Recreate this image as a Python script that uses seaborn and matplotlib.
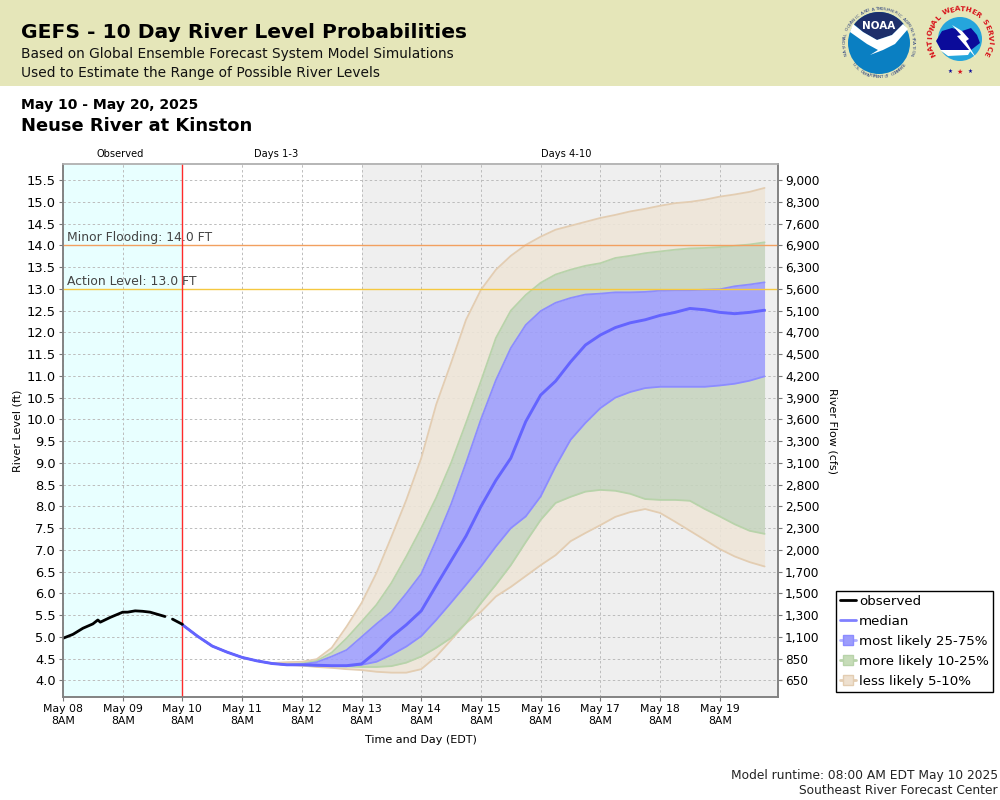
import numpy as np
import pandas as pd
import matplotlib
matplotlib.use("Agg")
import matplotlib.pyplot as plt
from matplotlib.lines import Line2D
from matplotlib.patches import Circle, Polygon, Rectangle
import seaborn as sns

sns.set_style("white")
plt.rcParams['font.family'] = ['DejaVu Sans']
plt.rcParams['text.color'] = 'black'
plt.rcParams['xtick.labelcolor'] = 'black'
plt.rcParams['ytick.labelcolor'] = 'black'

# observed stage, hours after May 08 8AM (there is a gap in the gauge record)
obs_hours_a = [0, 4, 8, 12, 14, 15, 19, 24, 26, 29, 32, 35, 38, 41]
obs_level_a = [4.97, 5.06, 5.20, 5.30, 5.39, 5.34, 5.45, 5.57, 5.57, 5.60, 5.59, 5.57, 5.52, 5.47]
obs_hours_b = [44, 46, 48]
obs_level_b = [5.41, 5.35, 5.29]

# forecast every 6 hours from May 10 8AM
fc_hours = list(range(48, 288, 6))
median = [5.28, 5.02, 4.79, 4.65, 4.53, 4.45, 4.39, 4.36, 4.36, 4.35, 4.34, 4.34, 4.38, 4.66, 5.00, 5.28, 5.60, 6.18, 6.75, 7.32,
          8.00, 8.60, 9.11, 9.95, 10.56, 10.88, 11.32, 11.71, 11.94, 12.11, 12.22, 12.29, 12.39, 12.46, 12.55, 12.52, 12.46, 12.43, 12.46, 12.51]
q05 = [5.28, 5.02, 4.79, 4.65, 4.53, 4.45, 4.39, 4.36, 4.34, 4.31, 4.29, 4.26, 4.24, 4.20, 4.18, 4.18, 4.26, 4.55, 4.93, 5.32,
       5.58, 5.93, 6.15, 6.40, 6.65, 6.88, 7.20, 7.39, 7.57, 7.76, 7.87, 7.94, 7.85, 7.65, 7.44, 7.23, 7.02, 6.85, 6.72, 6.62]
q10 = [5.28, 5.02, 4.79, 4.65, 4.53, 4.45, 4.39, 4.36, 4.35, 4.33, 4.33, 4.32, 4.31, 4.31, 4.33, 4.41, 4.55, 4.75, 4.98, 5.32,
       5.78, 6.20, 6.65, 7.18, 7.69, 8.08, 8.22, 8.34, 8.38, 8.36, 8.29, 8.17, 8.15, 8.15, 8.13, 7.94, 7.77, 7.59, 7.44, 7.37]
q25 = [5.28, 5.02, 4.79, 4.65, 4.53, 4.45, 4.39, 4.36, 4.36, 4.34, 4.33, 4.33, 4.36, 4.43, 4.59, 4.78, 5.02, 5.39, 5.79, 6.20,
       6.62, 7.08, 7.50, 7.77, 8.23, 8.92, 9.53, 9.92, 10.26, 10.50, 10.63, 10.72, 10.75, 10.75, 10.75, 10.75, 10.78, 10.82, 10.89, 10.99]
q75 = [5.28, 5.02, 4.79, 4.65, 4.53, 4.45, 4.39, 4.36, 4.37, 4.42, 4.55, 4.70, 5.00, 5.30, 5.58, 6.00, 6.45, 7.22, 8.05, 9.00,
       10.00, 10.90, 11.64, 12.17, 12.49, 12.68, 12.79, 12.87, 12.89, 12.92, 12.92, 12.93, 12.96, 12.97, 12.97, 12.98, 12.99, 13.06, 13.10, 13.15]
q90 = [5.28, 5.02, 4.79, 4.65, 4.53, 4.45, 4.39, 4.37, 4.39, 4.45, 4.64, 4.97, 5.35, 5.74, 6.24, 6.85, 7.50, 8.20, 9.00, 9.92,
       10.88, 11.87, 12.50, 12.86, 13.14, 13.33, 13.44, 13.53, 13.59, 13.71, 13.76, 13.82, 13.86, 13.90, 13.93, 13.94, 13.96, 13.99, 14.02, 14.07]
q95 = [5.28, 5.02, 4.79, 4.65, 4.53, 4.45, 4.40, 4.42, 4.43, 4.49, 4.75, 5.24, 5.78, 6.47, 7.30, 8.15, 9.11, 10.34, 11.30, 12.29,
       12.98, 13.44, 13.76, 14.01, 14.20, 14.36, 14.45, 14.54, 14.63, 14.70, 14.78, 14.84, 14.91, 14.97, 15.00, 15.05, 15.12, 15.17, 15.23, 15.32]

level_ticks = [4.0, 4.5, 5.0, 5.5, 6.0, 6.5, 7.0, 7.5, 8.0, 8.5, 9.0, 9.5, 10.0, 10.5, 11.0, 11.5, 12.0, 12.5, 13.0, 13.5, 14.0, 14.5, 15.0, 15.5]
flow_labels = ["650", "850", "1,100", "1,300", "1,500", "1,700", "2,000", "2,300", "2,500", "2,800", "3,100", "3,300",
               "3,600", "3,900", "4,200", "4,500", "4,700", "5,100", "5,600", "6,300", "6,900", "7,600", "8,300", "9,000"]
day_ticks = [0, 24, 48, 72, 96, 120, 144, 168, 192, 216, 240, 264]
day_labels = ["May 08\n8AM", "May 09\n8AM", "May 10\n8AM", "May 11\n8AM", "May 12\n8AM", "May 13\n8AM",
              "May 14\n8AM", "May 15\n8AM", "May 16\n8AM", "May 17\n8AM", "May 18\n8AM", "May 19\n8AM"]

forecast = pd.DataFrame({"hours": fc_hours, "median": median, "q05": q05, "q10": q10,
                         "q25": q25, "q75": q75, "q90": q90, "q95": q95})

TAN, TAN_EDGE = "#eee5d8", "#e3cdb2"
GREEN, GREEN_EDGE = "#c6d4be", "#b8d3aa"
BLUE, BLUE_EDGE = "#9c9cfc", "#8c8cff"
MEDIAN = "#6464ff"

fig = plt.figure(figsize=(10, 8), dpi=100)

# page furniture, drawn in pixel coordinates
page = fig.add_axes([0, 0, 1, 1], zorder=-1)
page.set_xlim(0, 1000)
page.set_ylim(800, 0)
page.axis("off")
page.add_patch(Rectangle((0, 0), 1000, 86, color="#e5e6b9", lw=0))
page.text(21, 33, "GEFS - 10 Day River Level Probabilities", fontsize=14.6, fontweight="bold", va="center")
page.text(21, 54, "Based on Global Ensemble Forecast System Model Simulations", fontsize=9.9, va="center", color="#111111")
page.text(21, 73, "Used to Estimate the Range of Possible River Levels", fontsize=9.9, va="center", color="#111111")
page.text(21, 105, "May 10 - May 20, 2025", fontsize=10.1, fontweight="bold", va="center")
page.text(21, 126, "Neuse River at Kinston", fontsize=12.9, fontweight="bold", va="center")
page.text(120, 154, "Observed", fontsize=7.1, ha="center", va="center")
page.text(276, 154, "Days 1-3", fontsize=7.1, ha="center", va="center")
page.text(566, 154, "Days 4-10", fontsize=7.1, ha="center", va="center")
page.text(18, 431, "River Level (ft)", fontsize=8, rotation=90, ha="center", va="center")
page.text(832, 431, "River Flow (cfs)", fontsize=8, rotation=270, ha="center", va="center")
page.text(421, 740, "Time and Day (EDT)", fontsize=8, ha="center", va="center")
page.text(998, 775, "Model runtime: 08:00 AM EDT May 10 2025", fontsize=8.8, ha="right", va="center", color="#222222")
page.text(998, 791, "Southeast River Forecast Center", fontsize=8.8, ha="right", va="center", color="#222222")


def arc_text(text, cx, cy, r, start, end, size, color, weight="normal", bottom=False):
    # one real text per letter, turned along the circle
    for ch, a in zip(text, np.linspace(start, end, len(text))):
        rad = np.deg2rad(a)
        rot = a + 90 if bottom else a - 90
        page.text(cx + r * np.cos(rad), cy - r * np.sin(rad), ch, fontsize=size, color=color,
                  fontweight=weight, rotation=rot, ha="center", va="center")


def shape(cx, cy, pts, colour):
    page.add_patch(Polygon([(cx + x, cy + y) for x, y in pts], color=colour, lw=0))


# NOAA logo
nx, ny = 879, 43
page.add_patch(Circle((nx, ny), 31, color="#0a7fc2", lw=0))
sky = np.deg2rad(np.linspace(38, 143, 30))
shape(nx, ny, [(31 * np.cos(a), -31 * np.sin(a)) for a in sky] + [(-16, -11), (-2, -3), (13, -8)], "#1d2f6b")
shape(nx, ny, [(-26, -19), (-16, -11), (-2, -3), (13, -8), (24, -19), (29, -14), (16, 1), (4, 7), (-9, 12), (-1, 7),
               (-12, 1), (-29, -11)], "white")
page.text(nx, ny - 17, "NOAA", fontsize=7.5, fontweight="bold", color="white", ha="center", va="center")
arc_text("NATIONAL OCEANIC AND ATMOSPHERIC ADMINISTRATION", nx, ny, 34, 198, -18, 3.2, "#2a3f7f")
arc_text("U.S. DEPARTMENT OF COMMERCE", nx, ny, 34, 220, 320, 3.2, "#2a3f7f", bottom=True)

# NWS logo
wx, wy = 960, 39
page.add_patch(Circle((wx, wy), 22, color="#25a5dc", lw=0))
shape(wx, wy, [(-24, 2), (-18, -8), (-8, -11), (2, -8), (11, -11), (17, -4), (20, 4), (11, 11), (-6, 11), (-19, 11)], "#0b0b9a")
shape(wx, wy, [(-20, 11), (11, 11), (8, 16), (-12, 17)], "white")
shape(wx, wy, [(-8, -14), (1, -4), (-3, -3), (16, 19), (6, 2), (9, 0), (2, -8)], "white")
arc_text("NATIONAL WEATHER SERVICE", wx, wy, 30, 208, -28, 5.2, "#d8141c", weight="bold")
page.text(wx - 10, wy + 32, "★", fontsize=4, color="#0b0b9a", ha="center", va="center")
page.text(wx, wy + 33, "★", fontsize=5, color="#d8141c", ha="center", va="center")
page.text(wx + 10, wy + 32, "★", fontsize=4, color="#0b0b9a", ha="center", va="center")

# main chart
ax = fig.add_axes([0.063, 1 - 697 / 800, 0.715, 533 / 800])
ax.set_facecolor("white")
ax.axvspan(0, 48, color="#e8ffff", lw=0, zorder=0)
ax.axvspan(120, 288, color="#efefef", lw=0, zorder=0)
ax.grid(True, color="#bcbcbc", linestyle=(0, (2.5, 2.5)), linewidth=0.7)
ax.set_axisbelow(True)

zones = [("q05", "q10", TAN), ("q90", "q95", TAN), ("q10", "q25", GREEN), ("q75", "q90", GREEN), ("q25", "q75", BLUE)]
for low, high, colour in zones:
    ax.fill_between(forecast["hours"], forecast[low], forecast[high], color=colour, alpha=0.88, lw=0, zorder=2)

for col, colour in [("q05", TAN_EDGE), ("q95", TAN_EDGE), ("q10", GREEN_EDGE), ("q90", GREEN_EDGE), ("q25", BLUE_EDGE), ("q75", BLUE_EDGE)]:
    sns.lineplot(data=forecast, x="hours", y=col, color=colour, linewidth=1.3, ax=ax, zorder=3)

ax.axhline(14, color="#f2a060", linewidth=1, zorder=4)
ax.axhline(13, color="#f5c840", linewidth=1, zorder=4)
ax.axvline(48, color="#ff2a2a", linewidth=1, zorder=4)

sns.lineplot(data=forecast, x="hours", y="median", color=MEDIAN, linewidth=2.1, ax=ax, zorder=5)
sns.lineplot(x=obs_hours_a, y=obs_level_a, color="black", linewidth=2, ax=ax, zorder=6)
sns.lineplot(x=obs_hours_b, y=obs_level_b, color="black", linewidth=2, ax=ax, zorder=6)

ax.text(1.6, 14.03, "Minor Flooding: 14.0 FT", fontsize=8.9, color="#444444", va="bottom", zorder=7)
ax.text(1.6, 13.03, "Action Level: 13.0 FT", fontsize=8.9, color="#444444", va="bottom", zorder=7)

ax.set_xlim(0, 287.4)
ax.set_ylim(3.62, 15.87)
ax.set_xticks(day_ticks)
ax.set_xticklabels(day_labels, fontsize=7.8, linespacing=1.3)
ax.set_yticks(level_ticks)
ax.set_yticklabels([f"{v:.1f}" for v in level_ticks], fontsize=9.4)
ax.set_xlabel("")
ax.set_ylabel("")
ax.tick_params(axis="both", length=3, width=0.8, color="#777777", pad=2, bottom=True, left=True)

flow_ax = ax.twinx()
flow_ax.set_ylim(ax.get_ylim())
flow_ax.set_yticks(level_ticks)
flow_ax.set_yticklabels(flow_labels, fontsize=8.7)
flow_ax.tick_params(axis="y", length=3, width=0.8, color="#777777", pad=2, right=True)
flow_ax.grid(False)
flow_ax.set_ylabel("")

for a in (ax, flow_ax):
    for side in ("left", "right", "bottom"):
        a.spines[side].set_color("#808080")
        a.spines[side].set_linewidth(1.1)
    a.spines["top"].set_color("#b4b4b4")
    a.spines["top"].set_linewidth(1.1)

handles = [
    Line2D([], [], color="black", lw=2),
    Line2D([], [], color="#8080ff", lw=2),
    Line2D([], [], color="#b0b0ff", lw=2, marker="s", ms=6.5, mfc="#9c9cfc", mec="#8c8cff"),
    Line2D([], [], color="#b8d3aa", lw=2, marker="s", ms=6.5, mfc="#c6dcb8", mec="#b8d3aa"),
    Line2D([], [], color="#e3cdb2", lw=2, marker="s", ms=6.5, mfc="#eee0cf", mec="#e3cdb2"),
]
labels = ["observed", "median", "most likely 25-75%", "more likely 10-25%", "less likely 5-10%"]
leg = fig.legend(handles, labels, loc="upper left", bbox_to_anchor=(0.8355, 1 - 591 / 800), fontsize=9.6,
                 frameon=True, fancybox=False, edgecolor="black", facecolor="white", framealpha=1,
                 borderpad=0.3, handlelength=1.2, handletextpad=0.25, labelspacing=0.52, borderaxespad=0)
leg.get_frame().set_linewidth(1)

fig.savefig("out.png", dpi=100)
